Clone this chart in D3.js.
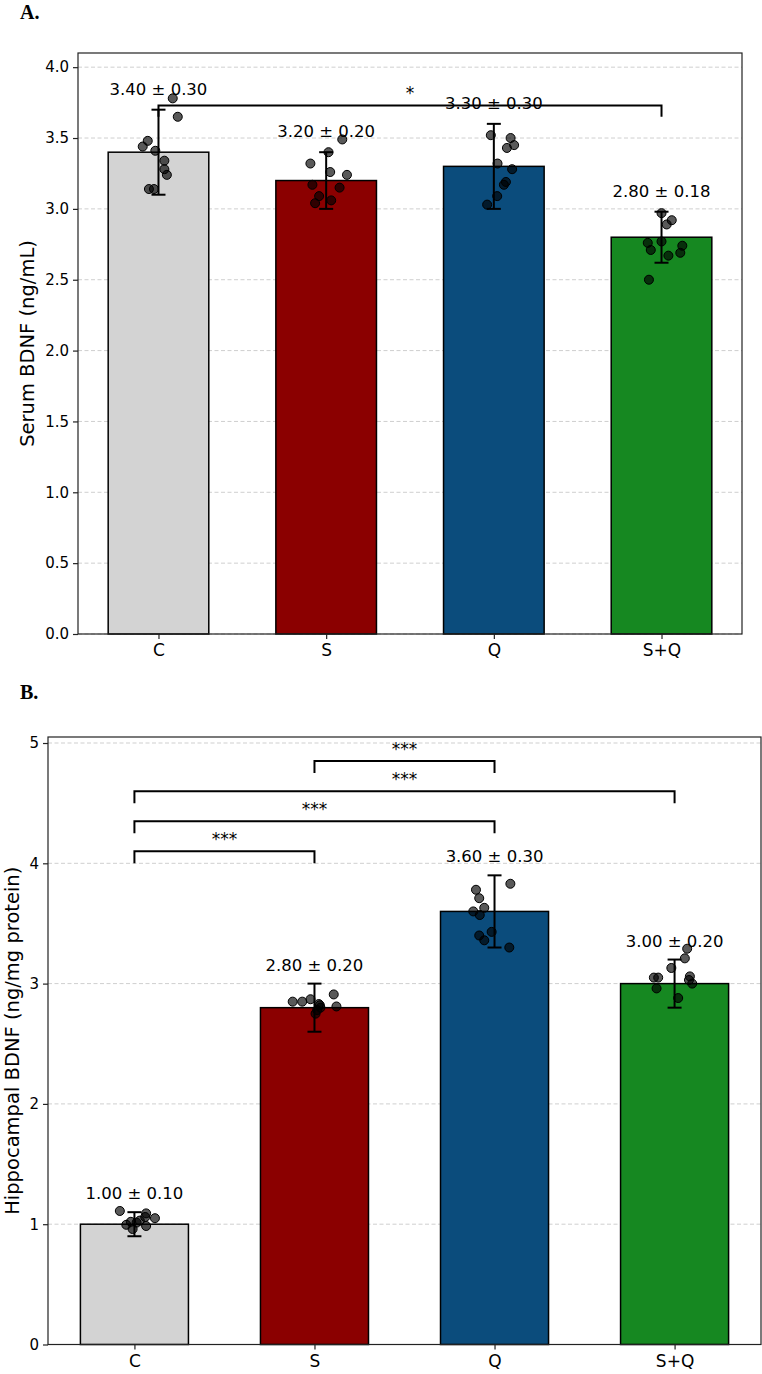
<!DOCTYPE html>
<html>
<head>
<meta charset="utf-8">
<script src="https://cdn.jsdelivr.net/npm/d3@7"></script>
<style>
  body { margin: 0; background: #fff; }
  svg { display: block; font-family: "DejaVu Sans", sans-serif; }
</style>
</head>
<body>
<div id="chart"></div>
<script>
"use strict";

// groups and bar colours
const groups = ["C", "S", "Q", "S+Q"];
const barColours = ["#d3d3d3", "#8b0000", "#0b4c7c", "#168821"];

// A. serum BDNF (ng/mL)
const serumMean = [3.4, 3.2, 3.3, 2.8];
const serumSd = [0.3, 0.2, 0.3, 0.18];
// individual animals: [jitter (category units), value]
const serumPoints = [
  [[0.085, 3.78], [0.115, 3.65], [-0.064, 3.48], [-0.094, 3.44], [-0.019, 3.41],
   [0.035, 3.34], [0.035, 3.28], [0.05, 3.24], [-0.057, 3.14], [-0.027, 3.14]],
  [[0.096, 3.49], [0.014, 3.4], [-0.094, 3.32], [0.024, 3.26], [0.124, 3.24],
   [-0.082, 3.17], [0.08, 3.15], [-0.042, 3.09], [0.03, 3.06], [-0.066, 3.04]],
  [[-0.018, 3.52], [0.1, 3.5], [0.121, 3.45], [0.078, 3.43], [0.022, 3.32],
   [0.109, 3.28], [0.072, 3.19], [0.06, 3.17], [0.02, 3.09], [-0.04, 3.03]],
  [[0, 2.97], [0.061, 2.92], [0.031, 2.89], [-0.082, 2.76], [0, 2.77],
   [-0.064, 2.71], [0.124, 2.74], [0.112, 2.69], [0.041, 2.67], [-0.075, 2.5]]
];
const serumTicks = [0, 0.5, 1, 1.5, 2, 2.5, 3, 3.5, 4];
const serumSig = [{ a: 0, b: 3, y: 3.65, label: "*" }];

// B. hippocampal BDNF (ng/mg protein)
const hippoMean = [1.0, 2.8, 3.6, 3.0];
const hippoSd = [0.1, 0.2, 0.3, 0.2];
const hippoPoints = [
  [[-0.081, 1.11], [0.065, 1.09], [0.114, 1.05], [0.06, 1.06], [-0.045, 0.995],
   [0.012, 1.013], [-0.01, 0.96], [0.065, 0.985], [0.03, 1.03], [-0.02, 1.02]],
  [[-0.121, 2.85], [-0.068, 2.85], [-0.022, 2.87], [0.107, 2.91], [0.122, 2.81],
   [0.024, 2.83], [0.033, 2.8], [0.015, 2.78], [0.006, 2.75], [0.03, 2.82]],
  [[0.088, 3.83], [-0.103, 3.78], [-0.085, 3.71], [-0.057, 3.63], [-0.118, 3.6],
   [-0.082, 3.57], [-0.016, 3.43], [-0.085, 3.4], [-0.057, 3.36], [0.082, 3.3]],
  [[0.07, 3.29], [0.057, 3.21], [-0.018, 3.13], [-0.115, 3.05], [-0.091, 3.05],
   [-0.1, 2.96], [0.085, 3.06], [0.098, 3.0], [0.02, 2.88], [0.08, 3.03]]
];
const hippoTicks = [0, 1, 2, 3, 4, 5];
const hippoSig = [
  { a: 0, b: 1, y: 4.0, label: "***" },
  { a: 0, b: 2, y: 4.25, label: "***" },
  { a: 0, b: 3, y: 4.5, label: "***" },
  { a: 1, b: 2, y: 4.75, label: "***" }
];

const svg = d3.select("#chart").append("svg")
  .attr("width", 762)
  .attr("height", 1374);

drawPanel({
  letter: "A.", letterY: 19,
  box: { left: 78, right: 742, top: 53, bottom: 634 },
  yMax: 4.1, ticks: serumTicks, tickFmt: d3.format(".1f"),
  mean: serumMean, sd: serumSd, points: serumPoints,
  sig: serumSig, sigH: 0.08,
  label: "Serum BDNF (ng/mL)", labelX: 27
});

drawPanel({
  letter: "B.", letterY: 699,
  box: { left: 48, right: 761, top: 737, bottom: 1344.5 },
  yMax: 5.05, ticks: hippoTicks, tickFmt: d3.format("d"),
  mean: hippoMean, sd: hippoSd, points: hippoPoints,
  sig: hippoSig, sigH: 0.1,
  label: "Hippocampal BDNF (ng/mg protein)", labelX: 12
});

function drawPanel(p) {
  const b = p.box;
  const g = svg.append("g");

  // category axis as a linear scale so the matplotlib margins hold
  const x = d3.scaleLinear().domain([-0.48, 3.48]).range([b.left, b.right]);
  const y = d3.scaleLinear().domain([0, p.yMax]).range([b.bottom, b.top]);
  const barW = x(0.6) - x(0);

  g.append("text")
    .attr("x", 20).attr("y", p.letterY)
    .style("font-family", "'Liberation Serif', serif")
    .style("font-weight", "bold")
    .style("font-size", "20px")
    .text(p.letter);

  // grid
  g.append("g").selectAll("line")
    .data(p.ticks)
    .join("line")
    .attr("x1", b.left).attr("x2", b.right)
    .attr("y1", d => y(d)).attr("y2", d => y(d))
    .attr("stroke", "#cfcfcf")
    .attr("stroke-width", 1)
    .attr("stroke-dasharray", "4,2.5");

  // bars
  g.append("g").selectAll("rect")
    .data(p.mean)
    .join("rect")
    .attr("x", (d, i) => x(i) - barW / 2)
    .attr("y", d => y(d))
    .attr("width", barW)
    .attr("height", d => y(0) - y(d))
    .attr("fill", (d, i) => barColours[i])
    .attr("stroke", "#000")
    .attr("stroke-width", 1.5);

  // error bars
  const err = g.append("g").attr("stroke", "#000").attr("stroke-width", 2);
  p.mean.forEach((m, i) => {
    const lo = y(m - p.sd[i]), hi = y(m + p.sd[i]), cx = x(i);
    err.append("line").attr("x1", cx).attr("x2", cx).attr("y1", lo).attr("y2", hi);
    err.append("line").attr("x1", cx - 7).attr("x2", cx + 7).attr("y1", lo).attr("y2", lo);
    err.append("line").attr("x1", cx - 7).attr("x2", cx + 7).attr("y1", hi).attr("y2", hi);
  });

  // individual points
  g.append("g").selectAll("g")
    .data(p.points)
    .join("g")
    .selectAll("circle")
    .data((d, i) => d.map(([j, v]) => [i + j, v]))
    .join("circle")
    .attr("cx", d => x(d[0]))
    .attr("cy", d => y(d[1]))
    .attr("r", 4.5)
    .attr("fill", "#000")
    .attr("fill-opacity", 0.65)
    .attr("stroke", "#000")
    .attr("stroke-width", 1);

  // mean ± sd labels
  g.append("g").selectAll("text")
    .data(p.mean)
    .join("text")
    .attr("x", (d, i) => x(i))
    .attr("y", (d, i) => y(d + p.sd[i] + 0.1) - 1)
    .attr("text-anchor", "middle")
    .style("font-size", "16.5px")
    .text((d, i) => `${d.toFixed(2)} ± ${p.sd[i].toFixed(2)}`);

  // significance brackets
  const sig = g.append("g");
  p.sig.forEach(s => {
    const x1 = x(s.a), x2 = x(s.b), y0 = y(s.y), y1 = y(s.y + p.sigH);
    sig.append("path")
      .attr("d", `M${x1},${y0}V${y1}H${x2}V${y0}`)
      .attr("fill", "none")
      .attr("stroke", "#000")
      .attr("stroke-width", 2);
    sig.append("text")
      .attr("x", (x1 + x2) / 2)
      .attr("y", y1 - 6)
      .attr("text-anchor", "middle")
      .style("font-size", "17px")
      .text(s.label);
  });

  // frame
  g.append("rect")
    .attr("x", b.left).attr("y", b.top)
    .attr("width", b.right - b.left).attr("height", b.bottom - b.top)
    .attr("fill", "none")
    .attr("stroke", "#222")
    .attr("stroke-width", 1.2);

  // axes
  const yAxis = g.append("g")
    .attr("transform", `translate(${b.left},0)`)
    .call(d3.axisLeft(y).tickValues(p.ticks).tickFormat(p.tickFmt).tickSize(5).tickPadding(4));
  const xAxis = g.append("g")
    .attr("transform", `translate(0,${b.bottom})`)
    .call(d3.axisBottom(x).tickValues([0, 1, 2, 3]).tickFormat(i => groups[i]).tickSize(5).tickPadding(5));
  [yAxis, xAxis].forEach(a => {
    a.select(".domain").remove();
    a.selectAll("line").attr("stroke", "#222").attr("stroke-width", 1.2);
    a.selectAll("text")
      .attr("fill", "#000")
      .style("font-family", "'DejaVu Sans', sans-serif");
  });
  yAxis.selectAll("text").style("font-size", "15px");
  xAxis.selectAll("text").style("font-size", "17px");

  g.append("text")
    .attr("transform", `translate(${p.labelX},${(b.top + b.bottom) / 2}) rotate(-90)`)
    .attr("text-anchor", "middle")
    .attr("dy", "0.35em")
    .style("font-size", "19.5px")
    .text(p.label);
}
</script>
</body>
</html>
